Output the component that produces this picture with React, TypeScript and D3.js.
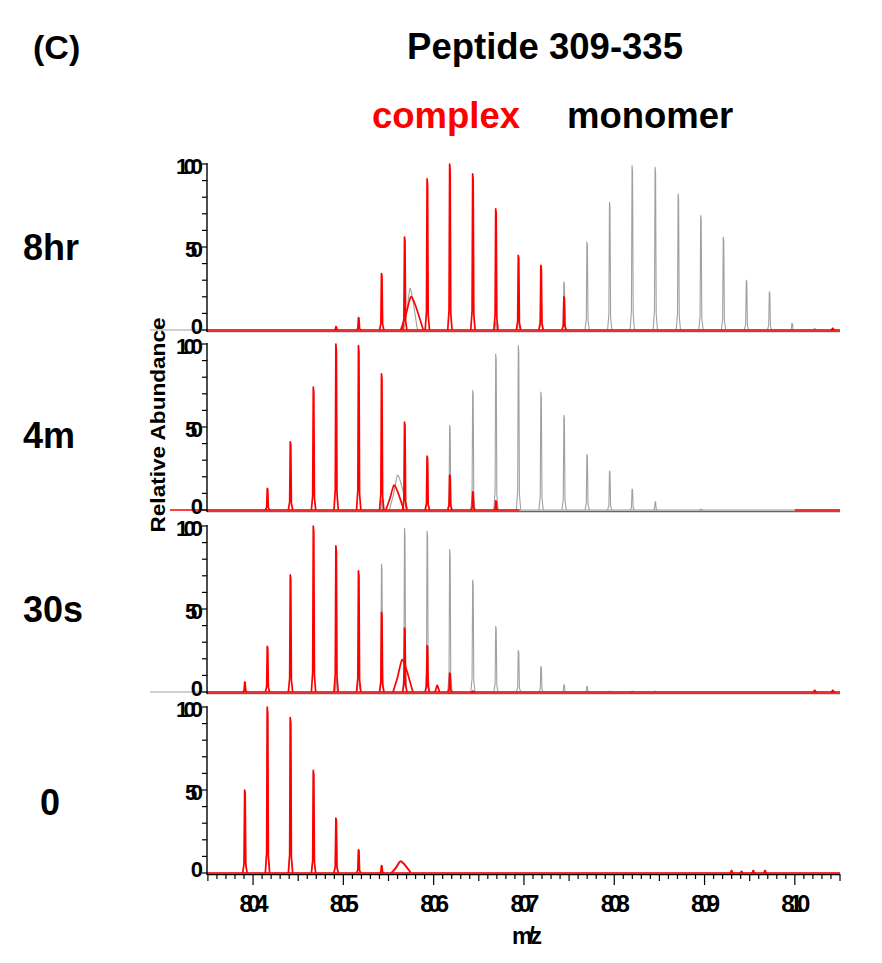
import React from 'react';
import * as d3 from 'd3';

// Isotope peak positions (m/z), charge 4 envelope
const isotopeMz = [803.91, 804.16, 804.415, 804.67, 804.92, 805.17, 805.425, 805.68, 805.93, 806.18,
  806.435, 806.69, 806.94, 807.19, 807.445, 807.70, 807.95, 808.20, 808.455, 808.71,
  808.96, 809.21, 809.465, 809.72, 809.97, 810.22];

const panelLabels = ['8hr', '4m', '30s', '0'];

// Relative abundance of each isotope peak, complex (red)
const complex8hr = [0, 0, 0, 0, 2, 7.5, 34, 56, 91, 100, 94, 73, 45, 39, 20, 0, 0, 0, 0, 0, 0, 0, 0, 0, 0, 0];
const complex4m = [0, 13, 41, 74, 100, 99, 82, 53, 32.5, 21, 11, 5.5, 0, 0, 0, 0, 0, 0, 0, 0, 0, 0, 0, 0, 0, 0];
const complex30s = [6, 27.5, 70.5, 100, 88, 73, 48, 38.5, 28, 11.4, 0.5, 0, 0, 0, 0, 0, 0, 0, 0, 0, 0, 0, 0, 0, 0, 1];
const complex0 = [50, 100, 93.6, 61.8, 33, 14, 4.4, 0, 0, 0, 0, 0, 0, 0, 0, 0, 0, 0, 0, 0, 0, 0, 0, 0, 0, 0];

// Relative abundance of each isotope peak, monomer (gray)
const monomer8hr = [0, 0, 0, 0, 0, 0, 0, 0, 0, 0, 0, 5, 12, 22, 29, 53, 77, 99, 98, 82, 69, 56, 30, 23, 4, 1];
const monomer4m = [0, 0, 0, 0, 0, 0, 6, 15, 30, 51, 72, 94, 99, 71, 57, 33.5, 23.5, 12.6, 5, 0, 0.5, 0, 0, 0, 0, 0];
const monomer30s = [0, 0, 0, 0, 8, 30, 77, 98.6, 97, 86, 67.5, 39.5, 25, 15.4, 4.4, 3.4, 0.5, 0.5, 0.5, 0, 0, 0, 0, 0, 0, 0];
const monomer0 = [49, 99, 93, 61, 32, 13.5, 4, 0, 0, 0, 0, 0, 0, 0, 0, 0, 0, 0, 0, 0, 0, 0, 0, 0, 0, 0];

// Broad features: [center m/z, half width, height]
const complexHumps = [
  [[805.76, 0.125, 20]],
  [[805.57, 0.1, 15]],
  [[805.66, 0.11, 19.4], [806.04, 0.025, 4]],
  [[805.64, 0.11, 7]],
];
const monomerHumps = [
  [[805.745, 0.075, 25]],
  [[805.61, 0.1, 21]],
  [],
  [[805.65, 0.1, 7.5]],
];

// Small isolated peaks: [m/z, height]
const complexMinor = [
  [[810.42, 1]],
  [],
  [[810.42, 1]],
  [[809.30, 1.5], [809.41, 1], [809.54, 1.5], [809.67, 1.5]],
];

// m/z ranges over which each trace was recorded
const complexRanges = [
  [[803.49, 810.5]],
  [[803.08, 806.95], [810.0, 810.5]],
  [[803.49, 810.5]],
  [[803.49, 810.5]],
];
const monomerRanges = [
  [[802.86, 810.5]],
  [[803.49, 810.5]],
  [[802.86, 810.5]],
  [[803.49, 810.5]],
];

const complexSeries = [complex8hr, complex4m, complex30s, complex0];
const monomerSeries = [monomer8hr, monomer4m, monomer30s, monomer0];

const xDomain = [803.49, 810.5];
const xTickLabels = [804, 805, 806, 807, 808, 809, 810];
const yTickLabels = [0, 50, 100];

const W = 882;
const H = 963;
const X0 = 207;
const X1 = 840;
const baselines = [330, 510, 692, 873];
const PH = 166;
const FONT = "'Liberation Sans', Arial, Helvetica, sans-serif";
const RED = '#ff0000';
const GRAY = '#a0a0a0';
const HW = 0.024;

function Trace({ heights, humps, minor, ranges, x, y, color, width }: any) {
  const items: any[] = [];
  ranges.forEach((r: number[], i: number) => {
    items.push(
      <line key={'b' + i} x1={x(r[0])} x2={x(r[1])} y1={y(0)} y2={y(0)} stroke={color} strokeWidth={width} />
    );
  });
  const hump = d3.line<number[]>().x((d) => x(d[0])).y((d) => y(d[1])).curve(d3.curveCardinal.tension(0.3));
  humps.forEach((h: number[], i: number) => {
    const [c, w, v] = h;
    const pts = [[c - w, 0], [c - w * 0.55, v * 0.45], [c - w * 0.1, v], [c + w * 0.35, v * 0.7], [c + w, 0]];
    items.push(<path key={'h' + i} d={hump(pts) || ''} fill="none" stroke={color} strokeWidth={width} />);
  });
  const peaks: number[][] = [];
  heights.forEach((v: number, k: number) => { if (v > 0) peaks.push([isotopeMz[k], v]); });
  minor.forEach((p: number[]) => peaks.push([p[0], p[1]]));
  peaks.forEach((p, i) => {
    const [m, v] = p;
    const d = `M${x(m - HW)},${y(0)}L${x(m - HW * 0.4)},${y(v * 0.12)}L${x(m - HW * 0.12)},${y(v)}L${x(m + HW * 0.12)},${y(v * 0.96)}L${x(m + HW * 0.4)},${y(v * 0.1)}L${x(m + HW)},${y(0)}`;
    items.push(<path key={'p' + i} d={d} fill="none" stroke={color} strokeWidth={width} strokeLinejoin="round" />);
  });
  return <g>{items}</g>;
}

export default function App() {
  const x = d3.scaleLinear().domain(xDomain).range([X0, X1]);
  const minorX = d3.range(Math.ceil(xDomain[0] * 10), Math.floor(xDomain[1] * 10) + 1).map((v) => v / 10);
  const yMinor = d3.range(0, 101, 10);

  return (
    <svg width={W} height={H} style={{ position: 'absolute', left: 0, top: 0, background: '#fff' }} fontFamily={FONT}>
      <rect x={0} y={0} width={W} height={H} fill="#fff" />
      <text x={33} y={59} fontSize={34} fontWeight="bold">(C)</text>
      <text x={545} y={59} fontSize={36.5} fontWeight="bold" textAnchor="middle">Peptide 309-335</text>
      <text x={372} y={128} fontSize={36.5} fontWeight="bold" fill={RED}>complex</text>
      <text x={567} y={128} fontSize={36.5} fontWeight="bold">monomer</text>

      {baselines.map((b, pi) => {
        const y = d3.scaleLinear().domain([0, 100]).range([b, b - PH]);
        const last = pi === baselines.length - 1;
        return (
          <g key={pi}>
            <line x1={X0} x2={X1} y1={b + 1.5} y2={b + 1.5} stroke={last ? '#000' : '#666'} strokeWidth={1.6} />
            <Trace heights={monomerSeries[pi]} humps={monomerHumps[pi]} minor={[]} ranges={monomerRanges[pi]} x={x} y={y} color={GRAY} width={1.1} />
            <Trace heights={complexSeries[pi]} humps={complexHumps[pi]} minor={complexMinor[pi]} ranges={complexRanges[pi]} x={x} y={y} color={RED} width={1.7} />
            <line x1={X0} x2={X0} y1={b + 2} y2={y(100) - 1} stroke="#000" strokeWidth={1.4} />
            {yMinor.map((t) => (
              <line key={t} x1={X0 - 5} x2={X0} y1={y(t)} y2={y(t)} stroke="#000" strokeWidth={1.2} />
            ))}
            {yTickLabels.map((t) => (
              <text key={'l' + t} x={203} y={y(t) + (t === 0 ? 4 : 10)} fontSize={22} fontWeight="bold" textAnchor="end"
                {...(t >= 10 ? { textLength: t >= 100 ? 27 : 18, lengthAdjust: 'spacing' } : {})}>{t}</text>
            ))}
            <text x={pi === 3 ? 40 : 23} y={[260, 448, 622, 815][pi]} fontSize={36} fontWeight="bold">{panelLabels[pi]}</text>
          </g>
        );
      })}

      {/* bottom axis ticks */}
      {minorX.map((t) => {
        const r = Math.round(t * 10);
        const len = r % 10 === 0 ? 11 : r % 5 === 0 ? 7 : 5;
        return <line key={t} x1={x(t)} x2={x(t)} y1={874} y2={874 + len} stroke="#000" strokeWidth={1.2} />;
      })}
      {xTickLabels.map((t) => (
        <text key={t} x={x(t) + 1} y={912} fontSize={24} fontWeight="bold" textAnchor="middle" textLength={29} lengthAdjust="spacing">{t}</text>
      ))}
      <text x={527} y={944} fontSize={23} fontWeight="bold" textAnchor="middle" textLength={30} lengthAdjust="spacing">m/z</text>
      <text transform="translate(165,425) rotate(-90)" fontSize={20} fontWeight="bold" textAnchor="middle" textLength={215} lengthAdjust="spacingAndGlyphs">Relative Abundance</text>
    </svg>
  );
}
